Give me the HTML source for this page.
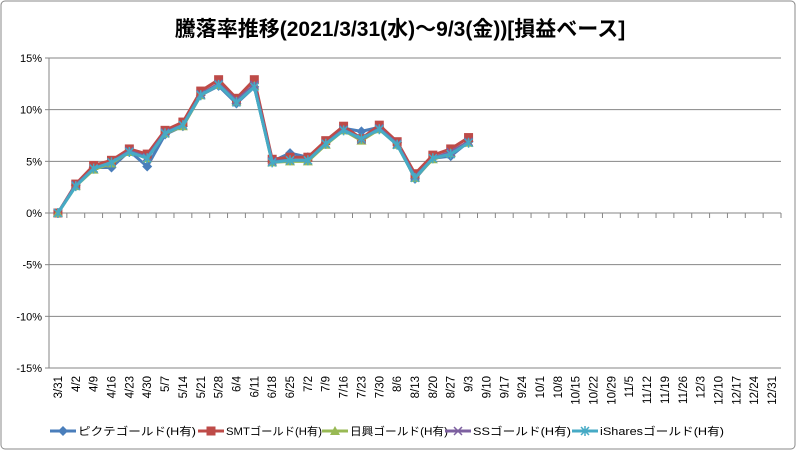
<!DOCTYPE html>
<html><head><meta charset="utf-8"><style>
body{margin:0;background:#fff;font-family:"Liberation Sans","Noto Sans CJK JP",sans-serif}
svg text{font-family:"Liberation Sans","Noto Sans CJK JP",sans-serif}
</style></head><body>
<svg id="c" width="797" height="451" xmlns="http://www.w3.org/2000/svg">
<rect x="1" y="1" width="794" height="448" rx="4" fill="#fff" stroke="#888"/>
<text x="400" y="36" text-anchor="middle" font-size="21" font-weight="bold" fill="#000">騰落率推移(2021/3/31(水)～9/3(金))[損益ベース]</text>
<g id="grid"></g><g id="axes"></g><g id="series"></g><g id="legend"></g>
</svg>
<script>
const categories=["3/31","4/2","4/9","4/16","4/23","4/30","5/7","5/14","5/21","5/28","6/4","6/11","6/18","6/25","7/2","7/9","7/16","7/23","7/30","8/6","8/13","8/20","8/27","9/3","9/10","9/17","9/24","10/1","10/8","10/15","10/22","10/29","11/5","11/12","11/19","11/26","12/3","12/10","12/17","12/24","12/31"];
const yTicks=[15,10,5,0,-5,-10,-15];
const seriesNames=["ピクテゴールド(H有)","SMTゴールド(H有)","日興ゴールド(H有)","SSゴールド(H有)","iSharesゴールド(H有)"];
const pictet=[0,2.7,4.4,4.4,6.0,4.5,7.6,8.4,11.4,12.3,10.6,12.2,5.0,5.8,5.4,6.8,8.2,7.9,8.3,6.8,3.3,5.3,5.5,6.9];
const smt=[0,2.8,4.6,5.1,6.2,5.7,8.0,8.8,11.8,12.9,11.1,12.9,5.2,5.4,5.4,7.0,8.4,7.2,8.5,6.9,3.8,5.6,6.2,7.3];
const nikko=[0,2.6,4.2,4.8,5.9,5.3,7.7,8.4,11.4,12.4,10.8,12.3,4.9,5.0,5.0,6.6,8.0,7.0,8.1,6.6,3.4,5.2,5.8,6.8];
const ss=[0,2.7,4.3,4.9,6.0,5.4,7.8,8.5,11.5,12.5,10.9,12.4,5.0,5.1,5.1,6.7,8.1,7.1,8.2,6.7,3.5,5.3,5.9,6.9];
const ishares=[0,2.6,4.3,4.9,5.9,5.3,7.7,8.5,11.4,12.4,10.7,12.2,4.9,5.1,5.1,6.7,8.0,7.2,8.1,6.6,3.4,5.3,5.7,6.8];
const colors=["#4a7ebb","#be4b48","#98b954","#7d60a0","#46aac5"];
const NS="http://www.w3.org/2000/svg";
const L=49,R=781,T=58,B=368;
const step=(R-L)/categories.length;
const x=i=>L+step*(i+0.5);
const y=v=>T+(15-v)/30*(B-T);
function mk(tag,attrs,parent){const e=document.createElementNS(NS,tag);for(const k in attrs)e.setAttribute(k,attrs[k]);parent.appendChild(e);return e;}
const grid=document.getElementById('grid'),axes=document.getElementById('axes'),ser=document.getElementById('series'),leg=document.getElementById('legend');
yTicks.forEach(t=>{
 const ln=mk('line',{x1:L,x2:R,y1:y(t),y2:y(t),stroke:'#868686','stroke-width':1},grid);
 
 
 const tx=mk('text',{x:L-7,y:y(t)+4,'text-anchor':'end','font-size':11,fill:'#000'},axes);
 tx.textContent=t+'%';
 
 
 mk('line',{x1:L-4,x2:L,y1:y(t),y2:y(t),stroke:'#868686'},axes);
});
mk('line',{x1:L,x2:L,y1:T,y2:B,stroke:'#868686'},axes);
categories.forEach((c,i)=>{
 mk('line',{x1:L+step*(i+1),x2:L+step*(i+1),y1:y(0),y2:y(0)+5,stroke:'#868686'},axes);
 const tx=mk('text',{transform:`translate(${x(i)+4},${B+8}) rotate(-90)`,'text-anchor':'end','font-size':11.5,fill:'#000'},axes);
 tx.textContent=c;
 
 
});
function marker(type,cx,cy,col,p){
 if(type==0)return mk('path',{d:`M${cx} ${cy-5}L${cx+5} ${cy}L${cx} ${cy+5}L${cx-5} ${cy}Z`,fill:col},p);
 if(type==1)return mk('rect',{x:cx-4.5,y:cy-4.5,width:9,height:9,fill:col},p);
 if(type==2)return mk('path',{d:`M${cx} ${cy-5}L${cx+5} ${cy+4}L${cx-5} ${cy+4}Z`,fill:col},p);
 if(type==3)return mk('path',{d:`M${cx-4} ${cy-4}L${cx+4} ${cy+4}M${cx+4} ${cy-4}L${cx-4} ${cy+4}`,stroke:col,'stroke-width':1.5},p);
 return mk('path',{d:`M${cx-4} ${cy-4}L${cx+4} ${cy+4}M${cx+4} ${cy-4}L${cx-4} ${cy+4}M${cx} ${cy-5}L${cx} ${cy+5}`,stroke:col,'stroke-width':1.5},p);
}
[pictet,smt,nikko,ss,ishares].forEach((d,s)=>{
 const g=mk('g',{},ser);
 
 
 const pl=mk('polyline',{points:d.map((v,i)=>x(i)+','+y(v)).join(' '),fill:'none',stroke:colors[s],'stroke-width':3,'stroke-linejoin':'round'},g);
 
 
 d.forEach((v,i)=>{const m=marker(s,x(i),y(v),colors[s],g);
  
  });
});
const lx=[50,198,322,445,572];
const lw=[118,96,98,98,124];
seriesNames.forEach((n,s)=>{
 const g=mk('g',{},leg);
 
 
 mk('line',{x1:lx[s],x2:lx[s]+26,y1:431,y2:431,stroke:colors[s],'stroke-width':3},g);
 marker(s,lx[s]+13,431,colors[s],g);
 const t=mk('text',{x:lx[s]+28,y:435,'font-size':11,fill:'#000',textLength:lw[s],lengthAdjust:'spacingAndGlyphs'},g);
 t.textContent=n;
});
</script>
</body></html>
